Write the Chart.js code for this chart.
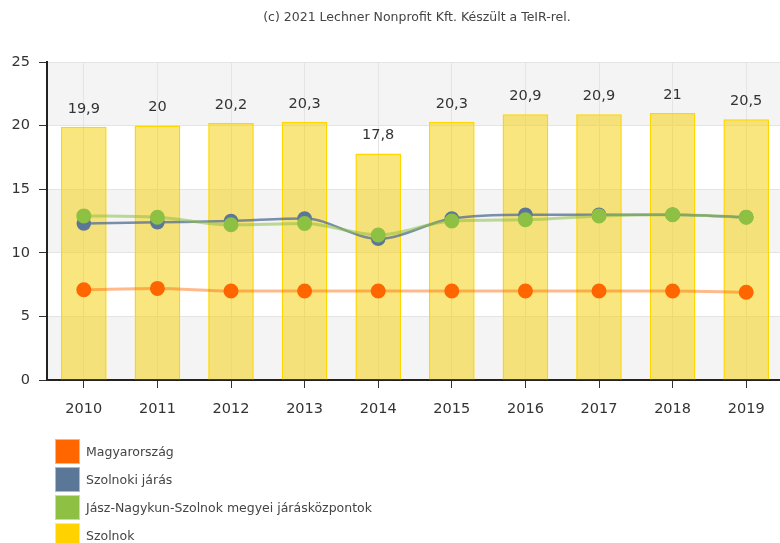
<!DOCTYPE html>
<html>
<head>
<meta charset="utf-8">
<script src="https://cdn.jsdelivr.net/npm/chart.js@4.4.0/dist/chart.umd.min.js"></script>
<style>
  html, body { margin: 0; padding: 0; background: #fff; overflow: hidden; }
  #wrap { position: relative; width: 792px; height: 543px; }
  #title { position: absolute; left: 0; top: 9px; width: 834px; text-align: center;
           font: 12.5px "DejaVu Sans", sans-serif; color: #444; }
  #legend { position: absolute; left: 55px; top: 437px; font: 12.5px "DejaVu Sans", sans-serif; color: #444; }
  .row { height: 28px; display: flex; align-items: center; }
  .box { width: 25px; height: 25px; margin-right: 6px; border: 1px solid rgba(255,255,255,0.5); box-sizing: border-box; }
</style>
</head>
<body>
<div id="wrap">
  <canvas id="chart"></canvas>
  <div id="title">(c) 2021 Lechner Nonprofit Kft. Készült a TeIR-rel.</div>
  <div id="legend"></div>
</div>
<script>
// évek
const years = ["2010","2011","2012","2013","2014","2015","2016","2017","2018","2019"];

// sorozatok
const magyarorszag = [7.1, 7.2, 7.0, 7.0, 7.0, 7.0, 7.0, 7.0, 7.0, 6.9];
const szolnokiJaras = [12.3, 12.4, 12.5, 12.7, 11.1, 12.7, 13.0, 13.0, 13.0, 12.8];
const megyeiKozpontok = [12.9, 12.8, 12.2, 12.3, 11.4, 12.5, 12.6, 12.9, 13.0, 12.8];
const szolnok = [19.9, 20, 20.2, 20.3, 17.8, 20.3, 20.9, 20.9, 21, 20.5];

const yTicks = [0, 5, 10, 15, 20, 25];

const FONT = "'DejaVu Sans', sans-serif";

// legenda sorrend és színek
const legendItems = [
  { label: "Magyarország", color: "#FF6600" },
  { label: "Szolnoki járás", color: "#5B7798" },
  { label: "Jász-Nagykun-Szolnok megyei járásközpontok", color: "#8DC043" },
  { label: "Szolnok", color: "#FFD200" }
];

// sávos háttér (szürke / fehér)
const bandPlugin = {
  id: "bands",
  beforeDraw(chart){
    const { ctx, chartArea, scales } = chart;
    const y = scales.y;
    ctx.save();
    for (let i = 0; i < yTicks.length - 1; i++) {
      if (i % 2 !== 0) continue;
      const top = y.getPixelForValue(yTicks[i+1]);
      const bot = y.getPixelForValue(yTicks[i]);
      ctx.fillStyle = "#f4f4f4";
      ctx.fillRect(chartArea.left, top, chartArea.right - chartArea.left, bot - top);
    }
    ctx.restore();
  }
};

// értékek az oszlopok fölött
const barLabelPlugin = {
  id: "barLabels",
  afterDatasetsDraw(chart){
    const { ctx } = chart;
    const idx = chart.data.datasets.findIndex(d => d.type === "bar");
    const meta = chart.getDatasetMeta(idx);
    ctx.save();
    ctx.font = "14.5px " + FONT;
    ctx.fillStyle = "#333";
    ctx.textAlign = "center";
    ctx.textBaseline = "middle";
    meta.data.forEach((bar, i) => {
      const v = chart.data.datasets[idx].data[i];
      ctx.fillText(String(v).replace(".", ","), bar.x, bar.y - 18);
    });
    ctx.restore();
  }
};

function lineDs(label, data, color, lineColor, width, order){
  return {
    type: "line",
    label: label,
    data: data,
    borderColor: lineColor,
    backgroundColor: color,
    pointBackgroundColor: color,
    pointBorderColor: color,
    pointRadius: 6,
    borderWidth: width,
    cubicInterpolationMode: "monotone",
    fill: false,
    order: order
  };
}

const ctx = document.getElementById("chart").getContext("2d");
new Chart(ctx, {
  data: {
    labels: years,
    datasets: [
      lineDs("Magyarország", magyarorszag, "#FF6600", "rgba(255,102,0,0.45)", 3, 3),
      lineDs("Szolnoki járás", szolnokiJaras, "#5B7798", "rgba(80,108,145,0.75)", 2.5, 2),
      lineDs("Jász-Nagykun-Szolnok megyei járásközpontok", megyeiKozpontok, "#8DC043", "rgba(141,192,67,0.55)", 3, 1),
      {
        type: "bar",
        label: "Szolnok",
        data: szolnok,
        backgroundColor: "rgba(246,210,20,0.55)",
        borderColor: "#FFD700",
        borderWidth: 1.5,
        categoryPercentage: 0.62,
        barPercentage: 1,
        order: 10
      }
    ]
  },
  options: {
    responsive: true,
    maintainAspectRatio: false,
    animation: false,
    layout: { padding: { top: 62, right: 1, left: 0, bottom: 0 } },
    plugins: {
      legend: { display: false },
      tooltip: { enabled: false }
    },
    scales: {
      x: {
        grid: { offset: false, color: "#e4e4e4", tickColor: "#333", tickLength: 8, drawOnChartArea: true },
        border: { color: "#222", width: 2 },
        ticks: { color: "#333", padding: 13, font: { family: FONT, size: 14.5 } },
        afterFit(scale){ scale.height = 163; }
      },
      y: {
        min: 0,
        max: 25,
        grid: { color: "#e4e4e4", tickColor: "#333", tickLength: 8 },
        border: { color: "#222", width: 2 },
        ticks: { stepSize: 5, color: "#333", padding: 9, font: { family: FONT, size: 14.5 } },
        afterFit(scale){ scale.width = 47; }
      }
    }
  },
  plugins: [bandPlugin, barLabelPlugin]
});

// HTML legenda
const legendEl = document.getElementById("legend");
legendItems.forEach(it => {
  const row = document.createElement("div");
  row.className = "row";
  const box = document.createElement("div");
  box.className = "box";
  box.style.background = it.color;
  const txt = document.createElement("span");
  txt.textContent = it.label;
  row.appendChild(box);
  row.appendChild(txt);
  legendEl.appendChild(row);
});
</script>
</body>
</html>
